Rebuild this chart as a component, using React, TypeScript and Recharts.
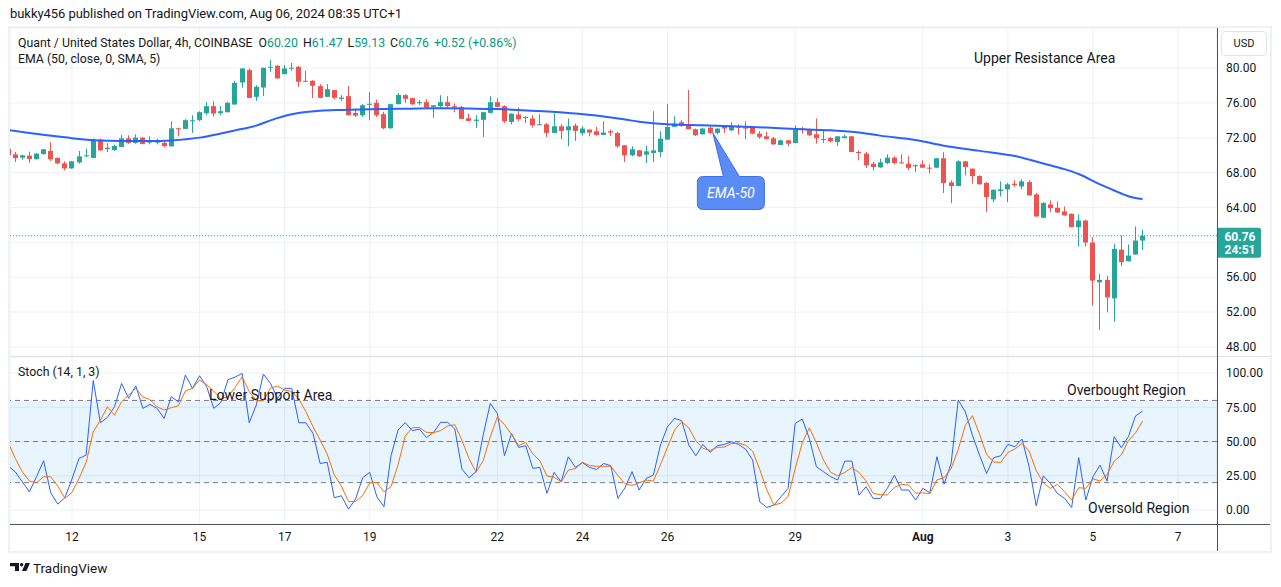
import React from 'react';
import {
  ComposedChart,
  Bar,
  Line,
  XAxis,
  YAxis,
  CartesianGrid,
  ReferenceLine,
  ReferenceArea,
  ReferenceDot,
} from 'recharts';

// ---------- DATA ----------
// 4h bars, index 0 = Jul 12 00:00 (6 bars per day)
const FIRST_BAR = -9;

const opens = [
  70.75, 70.10, 69.72, 69.95, 69.57, 70.14, 70.49, 69.68, 69.07, 68.49,
  69.18, 69.87, 69.68, 71.79, 70.72, 70.60, 70.95, 71.94, 71.41, 72.02,
  71.45, 71.45, 71.41, 71.02, 73.09, 73.02, 73.90, 74.02, 74.82, 75.63,
  74.82, 74.94, 75.82, 78.35, 79.77, 76.70, 77.77, 80.04, 80.27, 79.31,
  80.00, 80.15, 78.43, 78.54, 77.93, 76.70, 77.47, 76.47, 76.78, 74.86,
  74.59, 75.78, 76.01, 74.71, 73.09, 75.86, 76.89, 76.55, 75.97, 76.09,
  75.55, 75.63, 76.09, 75.63, 75.55, 74.25, 73.94, 74.06, 74.86, 76.09,
  75.63, 73.82, 74.67, 74.33, 74.21, 73.48, 73.55, 72.56, 73.32, 72.86,
  73.40, 72.52, 72.94, 72.75, 72.33, 72.75, 72.54, 71.14, 69.99, 70.56,
  70.07, 70.26, 70.37, 71.79, 73.25, 73.78, 73.52, 72.98, 72.40, 73.17,
  72.56, 73.25, 72.86, 73.32, 73.17, 73.17, 72.48, 72.17, 71.94, 71.18,
  71.71, 71.40, 73.06, 72.94, 72.40, 71.86, 71.98, 71.52, 71.98, 72.17,
  70.37, 70.18, 69.03, 68.60, 69.11, 69.72, 69.18, 69.03, 68.73, 68.96,
  68.57, 68.57, 69.65, 66.89, 66.46, 69.30, 68.46, 67.61, 66.81, 64.93,
  65.89, 66.08, 66.73, 66.42, 66.92, 65.50, 62.82, 64.35, 63.97, 63.55,
  63.28, 61.75, 62.51, 59.98, 55.42, 55.69, 53.57, 59.17, 57.83, 58.60, 60.20,
];
const highs = [
  70.85, 70.37, 70.06, 70.41, 70.26, 70.70, 71.48, 69.75, 69.30, 69.30,
  70.49, 70.75, 71.90, 71.90, 71.40, 71.21, 72.33, 72.29, 72.40, 72.10,
  72.17, 71.90, 71.64, 73.90, 73.17, 74.13, 74.59, 75.05, 76.09, 76.20,
  75.63, 76.13, 78.54, 79.96, 79.96, 78.04, 80.04, 80.92, 80.34, 80.34,
  80.61, 80.23, 79.69, 78.60, 78.16, 78.16, 77.50, 76.89, 77.93, 75.36,
  75.86, 77.24, 76.39, 74.98, 75.90, 77.12, 77.01, 76.62, 76.32, 76.43,
  75.76, 76.89, 76.78, 75.93, 75.63, 74.78, 74.59, 74.98, 76.78, 76.55,
  75.74, 74.80, 75.47, 74.48, 74.59, 74.71, 73.71, 74.79, 73.55, 74.21,
  73.63, 73.32, 72.96, 73.25, 73.90, 72.94, 72.67, 71.16, 71.02, 70.60,
  71.10, 75.05, 72.75, 75.86, 74.48, 74.02, 77.47, 73.06, 73.17, 73.32,
  73.08, 73.44, 73.78, 73.55, 73.90, 73.25, 72.75, 72.67, 72.10, 71.79,
  71.79, 73.44, 73.25, 73.06, 74.21, 72.86, 72.10, 72.19, 72.37, 72.19,
  70.56, 70.37, 69.22, 69.61, 70.10, 69.87, 70.10, 69.88, 68.95, 69.42,
  68.96, 69.67, 70.34, 67.12, 69.42, 69.32, 68.48, 67.69, 66.92, 66.06,
  67.00, 66.81, 67.12, 67.23, 67.12, 65.66, 64.62, 64.82, 64.70, 64.12,
  63.30, 63.20, 62.59, 60.60, 56.38, 56.18, 59.83, 60.79, 59.75, 61.82, 61.47,
];
const lows = [
  69.90, 69.22, 69.49, 69.11, 69.49, 70.05, 69.34, 68.95, 68.26, 68.45,
  69.03, 69.80, 69.68, 70.50, 70.37, 70.49, 70.95, 71.30, 71.33, 71.25,
  71.25, 71.25, 70.87, 71.00, 72.17, 73.00, 72.56, 73.90, 74.59, 74.44,
  74.59, 74.90, 75.80, 77.74, 76.55, 76.24, 76.78, 79.58, 78.78, 79.28,
  79.69, 77.85, 78.40, 76.58, 76.55, 76.68, 76.39, 76.24, 74.55, 74.40,
  74.40, 74.02, 74.40, 72.98, 73.05, 75.84, 76.01, 75.74, 75.74, 75.45,
  74.29, 75.47, 75.47, 74.94, 74.15, 73.92, 73.13, 72.10, 74.78, 75.52,
  73.71, 73.55, 73.90, 73.71, 73.17, 73.46, 72.10, 72.54, 71.83, 71.02,
  71.64, 72.25, 72.17, 72.25, 72.31, 72.21, 70.85, 69.22, 69.87, 69.80,
  69.10, 69.22, 69.80, 71.77, 73.23, 73.25, 72.96, 72.21, 72.37, 72.40,
  72.40, 72.56, 72.75, 72.37, 71.83, 72.40, 71.90, 71.79, 71.18, 71.16,
  71.02, 71.38, 72.48, 72.21, 71.33, 71.40, 71.45, 71.06, 71.90, 70.35,
  69.41, 68.53, 68.26, 68.57, 68.96, 68.95, 69.03, 68.30, 68.07, 68.55,
  67.88, 68.55, 65.66, 64.51, 66.44, 67.69, 66.73, 66.64, 63.47, 64.62,
  65.27, 64.62, 66.35, 66.08, 65.37, 62.95, 62.78, 63.47, 63.36, 63.07,
  61.73, 59.52, 59.52, 52.73, 49.97, 51.97, 50.89, 57.26, 57.80, 58.58, 59.13,
];
const closes = [
  69.99, 69.68, 69.99, 69.57, 70.18, 70.68, 69.53, 69.07, 68.49, 69.30,
  69.87, 69.99, 71.83, 70.56, 70.87, 71.06, 71.94, 71.41, 72.02, 71.29,
  71.60, 71.56, 71.06, 73.09, 72.98, 74.02, 74.02, 74.94, 75.63, 74.78,
  75.05, 76.01, 78.31, 79.96, 76.58, 77.85, 80.04, 80.15, 78.81, 79.96,
  80.04, 78.43, 78.54, 77.97, 76.58, 77.58, 76.58, 76.62, 74.59, 74.55,
  75.74, 75.90, 74.59, 73.09, 75.86, 76.93, 76.47, 75.86, 76.09, 75.47,
  75.74, 76.09, 75.63, 75.47, 74.17, 73.94, 74.09, 74.94, 76.09, 75.55,
  73.90, 74.78, 74.13, 74.40, 73.44, 73.55, 72.56, 73.32, 72.79, 73.32,
  72.79, 73.06, 72.60, 72.33, 72.60, 72.60, 71.02, 69.99, 70.68, 69.87,
  70.45, 70.56, 71.90, 73.25, 73.63, 73.40, 72.98, 72.29, 73.06, 72.56,
  73.06, 73.06, 73.32, 73.17, 73.06, 72.48, 72.10, 71.86, 71.25, 71.71,
  71.33, 72.94, 72.94, 72.29, 71.94, 71.75, 71.60, 72.17, 72.17, 70.37,
  70.30, 68.84, 68.65, 69.18, 69.72, 69.11, 69.10, 68.55, 68.86, 68.57,
  68.50, 69.65, 66.81, 66.46, 69.30, 68.65, 67.61, 66.66, 65.20, 66.04,
  66.08, 66.66, 66.58, 67.00, 65.39, 62.97, 64.51, 63.93, 63.43, 63.09,
  61.75, 62.51, 59.98, 55.61, 55.69, 53.69, 59.25, 57.72, 58.49, 60.21, 60.76,
];

// EMA(50) line, read at selected bars
const emaBars = [-9, -6, -1, 3, 7, 11, 14, 18, 21, 23, 26, 28, 31, 35, 38, 42, 46, 51, 56, 60, 65, 70, 75, 78, 80, 84, 89, 93, 98, 103, 107, 111, 114, 119, 123, 128, 133, 137, 140, 142, 145, 147, 149, 151];
const emaValues = [72.9, 72.55, 72.05, 71.72, 71.63, 71.63, 71.7, 72.02, 72.5, 72.85, 73.4, 74.0, 74.7, 75.1, 75.2, 75.28, 75.32, 75.38, 75.35, 75.3, 75.1, 74.85, 74.45, 74.1, 73.85, 73.55, 73.43, 73.33, 73.17, 72.98, 72.86, 72.62, 72.25, 71.75, 71.1, 70.5, 69.9, 69.05, 68.4, 67.85, 66.65, 65.95, 65.3, 64.97];

// Stochastic (14, 1, 3)
const stochK = [
  32.3, 27.9, 20.6, 13.3, 24.3, 36.0, 12.6, 4.3, 9.0, 22.6,
  37.7, 40.1, 94.6, 63.7, 67.6, 75.4, 92.4, 81.5, 90.7, 74.2,
  77.1, 74.2, 66.9, 82.7, 79.0, 98.5, 88.8, 98.0, 90.0, 74.2,
  78.5, 95.1, 97.0, 99.7, 63.7, 76.6, 99.2, 92.4, 81.5, 88.8,
  88.8, 63.7, 63.7, 55.9, 34.0, 34.8, 9.0, 10.4, 0.7, 8.0,
  23.6, 27.5, 9.7, 2.4, 39.6, 58.4, 63.8, 57.9, 59.1, 52.8,
  56.7, 64.0, 64.0, 59.1, 29.9, 23.6, 28.0, 54.7, 77.8, 70.5,
  39.6, 55.9, 45.7, 46.9, 30.4, 31.1, 12.1, 27.5, 20.6, 38.9,
  31.1, 34.5, 31.1, 29.6, 34.0, 32.3, 8.5, 16.3, 28.0, 14.6,
  23.1, 25.5, 47.4, 60.8, 66.9, 65.2, 47.4, 39.6, 47.9, 42.1,
  46.9, 47.9, 49.8, 47.9, 44.5, 36.5, 6.0, 1.9, 3.6, 9.7,
  15.8, 63.2, 66.4, 52.3, 31.6, 28.0, 24.3, 21.9, 35.7, 35.7,
  10.9, 17.0, 8.5, 8.5, 15.8, 25.5, 14.6, 14.6, 7.3, 15.8,
  12.6, 38.9, 18.9, 34.0, 80.3, 71.7, 54.7, 40.1, 26.7, 38.2,
  39.6, 47.9, 46.2, 51.8, 31.6, 3.1, 25.0, 19.4, 12.1, 8.5,
  1.9, 38.2, 7.3, 24.3, 32.8, 21.1, 53.5, 45.5, 53.5, 68.6, 72.2,
];
const stochD = [
  49.4, 37.7, 27.9, 21.1, 19.9, 24.3, 24.3, 17.5, 8.5, 12.9,
  23.1, 34.8, 57.1, 65.5, 75.4, 69.3, 79.0, 84.0, 88.8, 82.5,
  80.7, 75.4, 73.0, 74.7, 76.1, 87.0, 88.8, 94.9, 91.5, 86.8,
  81.2, 82.7, 89.5, 97.3, 86.5, 79.7, 79.7, 89.0, 90.5, 87.5,
  86.6, 81.0, 71.8, 60.9, 51.1, 40.8, 25.7, 17.5, 6.3, 6.2,
  10.6, 19.8, 20.1, 13.3, 17.1, 33.1, 54.0, 60.1, 60.2, 56.7,
  56.5, 58.0, 61.5, 62.2, 51.0, 37.6, 27.6, 36.0, 53.5, 67.9,
  62.3, 55.2, 47.0, 49.4, 40.9, 35.9, 24.8, 24.0, 20.4, 29.1,
  30.3, 34.8, 32.5, 31.9, 31.9, 32.0, 25.2, 19.2, 17.9, 19.9,
  21.9, 21.1, 33.0, 46.0, 58.4, 64.4, 60.0, 50.5, 45.0, 43.5,
  45.7, 46.0, 48.4, 48.9, 47.4, 43.0, 29.7, 14.7, 3.7, 5.0,
  9.7, 30.0, 49.0, 60.0, 49.0, 36.5, 27.5, 25.0, 27.4, 31.1,
  27.4, 21.3, 12.1, 11.2, 11.0, 16.6, 18.7, 18.2, 12.3, 12.5,
  12.0, 22.0, 23.5, 30.3, 44.2, 61.8, 68.9, 55.5, 40.7, 35.0,
  34.8, 42.0, 44.6, 48.6, 43.1, 28.7, 19.9, 15.8, 18.8, 13.3,
  7.4, 16.3, 15.8, 22.8, 21.2, 26.0, 35.7, 40.2, 50.6, 56.3, 64.9,
];

const dateTickBars = [0, 18, 30, 42, 60, 72, 84, 102, 120, 132, 144, 156];
const dateTickLabels = ['12', '15', '17', '19', '22', '24', '26', '29', 'Aug', '3', '5', '7'];
const priceTicks = [48, 52, 56, 60, 64, 68, 72, 76, 80];
const stochTicks = [0, 25, 50, 75, 100];
const stochLevels = [80, 50, 20];

const LAST_PRICE = 60.76;
const COUNTDOWN = '24:51';

// ---------- STYLE ----------
const FONT = "'Trebuchet MS', Roboto, 'Noto Sans', sans-serif";
const UP = '#26a69a';
const DOWN = '#ef5350';
const TEXT = '#131722';
const GRID = '#edf0f5';
const X_DOMAIN: [number, number] = [-8.74, 161.5];
const PRICE_DOMAIN: [number, number] = [46.96, 84.6];
const STOCH_DOMAIN: [number, number] = [-10.2, 111.7];

const candles = opens.map((o, i) => ({
  bar: FIRST_BAR + i,
  open: o,
  high: highs[i],
  low: lows[i],
  close: closes[i],
}));
const emaData = emaBars.map((b, i) => ({ bar: b, ema: emaValues[i] }));
const stochData = stochK.map((v, i) => ({ bar: FIRST_BAR + i, k: v, d: stochD[i] }));

const Candle = (props: any) => {
  const { x, y, width, height, payload } = props;
  if (!payload || width == null) return null;
  const { open, close, high, low } = payload;
  const color = close >= open ? UP : DOWN;
  const top = height < 0 ? y + height : y;
  const h = Math.abs(height);
  const ppu = h / (high - low || 1);
  const bTop = top + (high - Math.max(open, close)) * ppu;
  const bBot = top + (high - Math.min(open, close)) * ppu;
  const cx = Math.floor(x + width / 2) + 0.5;
  return (
    <g>
      <line x1={cx} x2={cx} y1={top} y2={top + h} stroke={color} strokeWidth={1} />
      <rect x={cx - 2.5} y={bTop} width={5} height={Math.max(1, bBot - bTop)} fill={color} />
    </g>
  );
};

const PriceTag = (props: any) => {
  const vb = props.viewBox || {};
  const x = vb.x + vb.width;
  const y = vb.y;
  return (
    <g>
      <rect x={x} y={y - 8} width={44} height={30} rx={2} fill={UP} />
      <text x={x + 23} y={y + 1} textAnchor="middle" dominantBaseline="central" fill="#fff" fontSize={12} fontWeight={700} fontFamily={FONT}>
        {LAST_PRICE.toFixed(2)}
      </text>
      <text x={x + 23} y={y + 14.5} textAnchor="middle" dominantBaseline="central" fill="#fff" fontSize={12} fontWeight={700} fontFamily={FONT}>
        {COUNTDOWN}
      </text>
    </g>
  );
};

const Callout = (props: any) => {
  const { cx, cy } = props;
  if (cx == null) return null;
  const x0 = cx - 15.5;
  const x1 = cx + 51.5;
  const y0 = cy + 43.5;
  const y1 = cy + 76.5;
  const r = 6;
  const d = `M${x0 + r},${y0} L${cx + 10.5},${y0} L${cx},${cy} L${cx + 26.5},${y0} L${x1 - r},${y0} Q${x1},${y0} ${x1},${y0 + r} L${x1},${y1 - r} Q${x1},${y1} ${x1 - r},${y1} L${x0 + r},${y1} Q${x0},${y1} ${x0},${y1 - r} L${x0},${y0 + r} Q${x0},${y0} ${x0 + r},${y0} Z`;
  return (
    <g>
      <path d={d} fill="#5b8cf6" stroke="#3d6fe6" strokeWidth={1} />
      <text x={(x0 + x1) / 2} y={(y0 + y1) / 2} textAnchor="middle" dominantBaseline="central" fill="#fff" fontSize={14} fontStyle="italic" fontFamily={FONT}>
        EMA-50
      </text>
    </g>
  );
};

const DateTick = (props: any) => {
  const { x, y, payload } = props;
  const idx = dateTickBars.indexOf(payload.value);
  const label = idx >= 0 ? dateTickLabels[idx] : '';
  const bold = isNaN(Number(label));
  return (
    <text x={x} y={y + 5} textAnchor="middle" dominantBaseline="central" fontSize={12} fontFamily={FONT} fill={TEXT} fontWeight={bold ? 700 : 400}>
      {label}
    </text>
  );
};

const abs = (l: number, t: number, extra: React.CSSProperties = {}): React.CSSProperties => ({
  position: 'absolute',
  left: l,
  top: t,
  whiteSpace: 'nowrap',
  ...extra,
});

const TV_GREEN = '#089981';

export default function App() {
  return (
    <div style={{ position: 'absolute', left: 0, top: 0, width: 1281, height: 587, background: '#fff', fontFamily: FONT, color: TEXT, overflow: 'hidden' }}>
      {/* header */}
      <div style={abs(10, 5, { fontSize: 13, lineHeight: '18px', letterSpacing: -0.05 })}>
        bukky456 published on TradingView.com, Aug 06, 2024 08:35 UTC+1
      </div>

      {/* outer frame */}
      <div style={abs(8, 26, { width: 1264, height: 527, border: '2px solid #eef1f6', boxSizing: 'border-box' })} />

      {/* price pane */}
      <div style={abs(10, 28)}>
        <ComposedChart width={1261} height={328} data={candles} margin={{ top: 0, right: 0, bottom: 0, left: 0 }}>
          <CartesianGrid stroke={GRID} strokeWidth={1} />
          <XAxis type="number" dataKey="bar" domain={X_DOMAIN} ticks={dateTickBars} hide allowDataOverflow />
          <YAxis
            orientation="right"
            width={54}
            domain={PRICE_DOMAIN}
            ticks={priceTicks}
            allowDataOverflow
            axisLine={false}
            tickLine={false}
            tickMargin={3}
            tick={{ fontSize: 12, fill: TEXT, fontFamily: FONT }}
            tickFormatter={(v: number) => (v === 60 ? '' : v.toFixed(2))}
          />
          <Bar dataKey={(d: any) => [d.low, d.high]} barSize={5} shape={<Candle />} isAnimationActive={false} />
          <Line data={emaData} dataKey="ema" type="monotone" stroke="#2962ff" strokeWidth={2} dot={false} activeDot={false} isAnimationActive={false} />
          <ReferenceLine y={LAST_PRICE} stroke={UP} strokeDasharray="1 2" strokeWidth={1} label={<PriceTag />} />
          <ReferenceDot x={90.4} y={72.55} r={0} shape={<Callout />} />
        </ComposedChart>
      </div>

      {/* legend */}
      <div style={abs(18, 35, { fontSize: 12.3, lineHeight: '16px' })}>
        Quant / United States Dollar, 4h, COINBASE
        <span style={{ marginLeft: 6 }}>O</span><span style={{ color: TV_GREEN }}>60.20</span>
        <span style={{ marginLeft: 5 }}>H</span><span style={{ color: TV_GREEN }}>61.47</span>
        <span style={{ marginLeft: 5 }}>L</span><span style={{ color: TV_GREEN }}>59.13</span>
        <span style={{ marginLeft: 5 }}>C</span><span style={{ color: TV_GREEN }}>60.76</span>
        <span style={{ marginLeft: 5, color: TV_GREEN }}>+0.52 (+0.86%)</span>
      </div>
      <div style={abs(18, 51, { fontSize: 12.3, lineHeight: '16px' })}>EMA (50, close, 0, SMA, 5)</div>

      {/* USD box */}
      <div style={abs(1221, 31, { width: 46, height: 25, border: '1px solid #e0e3eb', borderRadius: 4, boxSizing: 'border-box', fontSize: 11, lineHeight: '23px', textAlign: 'center', background: '#fff' })}>USD</div>

      <div style={abs(974, 49, { fontSize: 14, lineHeight: '18px' })}>Upper Resistance Area</div>

      {/* pane separator */}
      <div style={abs(10, 356, { width: 1260, height: 1, background: '#e0e3eb' })} />

      {/* stochastic pane */}
      <div style={abs(10, 357)}>
        <ComposedChart width={1261} height={193} data={stochData} margin={{ top: 0, right: 0, bottom: 0, left: 0 }}>
          <CartesianGrid stroke={GRID} strokeWidth={1} />
          <ReferenceArea y1={20} y2={80} fill="#2196f3" fillOpacity={0.1} stroke="none" />
          {stochLevels.map((lv) => (
            <ReferenceLine key={lv} y={lv} stroke="#787b86" strokeDasharray="5 4" strokeWidth={1} />
          ))}
          <XAxis
            type="number"
            dataKey="bar"
            domain={X_DOMAIN}
            ticks={dateTickBars}
            allowDataOverflow
            height={26}
            axisLine={false}
            tickLine={false}
            tick={<DateTick />}
            interval={0}
          />
          <YAxis
            orientation="right"
            width={54}
            domain={STOCH_DOMAIN}
            ticks={stochTicks}
            allowDataOverflow
            axisLine={false}
            tickLine={false}
            tickMargin={3}
            tick={{ fontSize: 12, fill: TEXT, fontFamily: FONT }}
            tickFormatter={(v: number) => v.toFixed(2)}
          />
          <Line dataKey="k" type="linear" stroke="#2962ff" strokeWidth={1} dot={false} activeDot={false} isAnimationActive={false} />
          <Line dataKey="d" type="linear" stroke="#ff6d00" strokeWidth={1} dot={false} activeDot={false} isAnimationActive={false} />
        </ComposedChart>
      </div>

      <div style={abs(18, 364, { fontSize: 12.3, lineHeight: '16px' })}>Stoch (14, 1, 3)</div>
      <div style={abs(209, 386, { fontSize: 14, lineHeight: '18px' })}>Lower Support Area</div>
      <div style={abs(1067, 381, { fontSize: 14, lineHeight: '18px' })}>Overbought Region</div>
      <div style={abs(1088, 499, { fontSize: 14, lineHeight: '18px' })}>Oversold Region</div>

      {/* axis lines */}
      <div style={abs(1217, 28, { width: 1, height: 523, background: '#50535e' })} />
      <div style={abs(10, 524, { width: 1260, height: 1, background: '#50535e' })} />

      {/* footer */}
      <svg style={abs(10, 563)} width={20} height={8} viewBox="0 0 20 8">
        <path d="M0 0h9v8H5V3.3H0z" fill={TEXT} />
        <circle cx={11.6} cy={1.7} r={1.7} fill={TEXT} />
        <path d="M15.5 0h4.5L16.3 8H12z" fill={TEXT} />
      </svg>
      <div style={abs(33, 560, { fontSize: 13.5, lineHeight: '16px' })}>TradingView</div>
    </div>
  );
}
